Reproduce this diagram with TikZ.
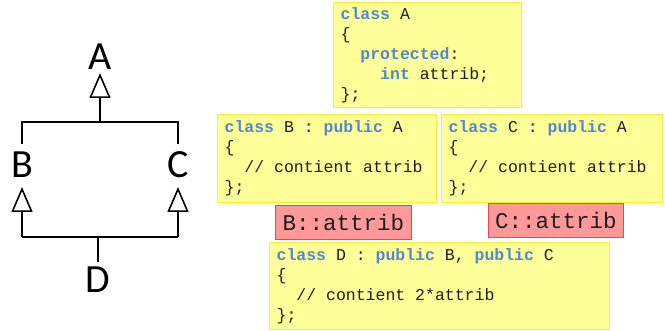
\documentclass[tikz,border=0pt]{standalone}
\usepackage{fontspec}
\newfontfamily\codefont{Liberation Mono}
\newfontfamily\letterfont{Carlito}
\usetikzlibrary{arrows.meta}

\definecolor{kwblue}{RGB}{84,136,201}
\definecolor{codeink}{RGB}{30,30,30}
\definecolor{boxfill}{RGB}{255,255,153}
\definecolor{boxline}{RGB}{250,242,40}
\definecolor{redfill}{RGB}{255,153,153}
\definecolor{redline}{RGB}{228,72,84}

% C++ keyword
\newcommand\kw[1]{\textcolor{kwblue}{\bfseries #1}}
% indentation of n characters
\newcommand\ind[1]{\hphantom{#1}}
% monospaced source text: every space one character wide, no hyphenation
\newcommand\monospaces{\frenchspacing\spaceskip=0.6em\relax
  \xspaceskip=0.6em\relax\hyphenpenalty=10000\relax}

\begin{document}
\begin{tikzpicture}[x=1pt,y=-1pt,
  codebox/.style={draw=boxline, fill=boxfill, line width=1.2pt,
    anchor=north west, inner xsep=7pt, inner ysep=0pt, align=left,
    text=codeink, font=\codefont\fontsize{16.5}{20}\selectfont},
  attrbox/.style={draw=redline, fill=redfill, line width=1pt,
    anchor=north west, inner sep=0pt, text=codeink,
    font=\codefont\fontsize{22.5}{24}\selectfont},
  letter/.style={font=\letterfont\fontsize{40}{40}\selectfont,
    inner sep=0pt, anchor=base},
  link/.style={line width=1.6pt},
  inh/.style={link, -{Triangle[open, length=25pt, width=21pt]}}
]
\useasboundingbox (0,0) rectangle (665,331);

% class hierarchy (diamond)
\node[letter] (A) at (100,70) {A};
\node[letter] (B) at (22,178) {B};
\node[letter] (C) at (178,178) {C};
\node[letter] (D) at (98,293) {D};

\coordinate (topbar) at (100,122);
\coordinate (botbar) at (98,237);

\draw[link] ([yshift=8pt]B.north) |- (topbar) -| ([yshift=8pt]C.north);
\draw[inh] (topbar) -- ([yshift=-3pt]A.base);
\draw[link] (B.south |- botbar) -- (C.south |- botbar);
\draw[inh] (B.south |- botbar) -- ([yshift=-9pt]B.base);
\draw[inh] (C.south |- botbar) -- ([yshift=-9pt]C.base);
\draw[link] ([yshift=5pt]D.north) -- (botbar);

% source code of the classes
\node[codebox, text width=174pt, minimum height=105pt] (codeA) at (333,2)
  {\monospaces\kw{class} A\\
   \{\\
   \ind{xx}\kw{protected}:\\
   \ind{xxxx}\kw{int} attrib;\\
   \};};

\node[codebox, text width=205pt, minimum height=88pt] (codeB) at (217,114)
  {\monospaces\kw{class} B : \kw{public} A\\
   \{\\
   \ind{xx}// contient attrib\\
   \};};

\node[codebox, text width=207pt, minimum height=88pt] (codeC) at (441,114)
  {\monospaces\kw{class} C : \kw{public} A\\
   \{\\
   \ind{xx}// contient attrib\\
   \};};

\node[codebox, text width=326pt, minimum height=87pt] (codeD) at (269,242)
  {\monospaces\kw{class} D : \kw{public} B, \kw{public} C\\
   \{\\
   \ind{xx}// contient 2*attrib\\
   \};};

% the two inherited copies of attrib
\node[attrbox, minimum width=136pt, minimum height=34pt] (attrB) at (275,205) {B::attrib};
\node[attrbox, minimum width=135pt, minimum height=34pt] (attrC) at (488,203) {C::attrib};
\end{tikzpicture}
\end{document}
